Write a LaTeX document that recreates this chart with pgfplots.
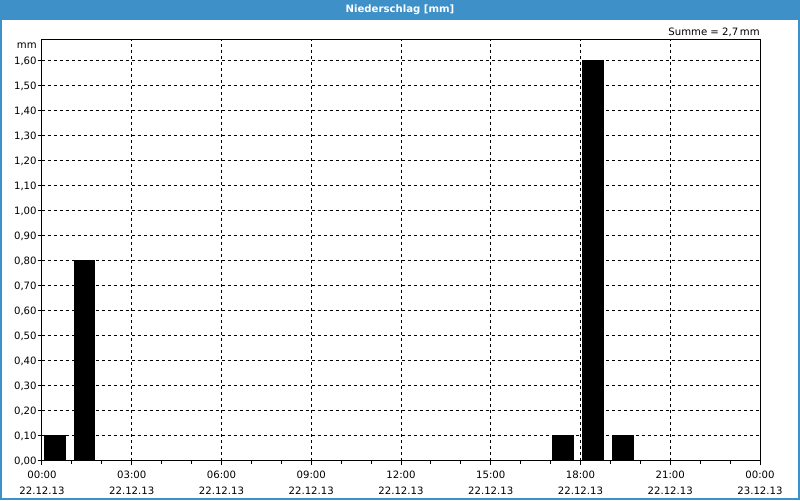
\documentclass[border=0pt]{standalone}
\usepackage{pgfplots}
\pgfplotsset{compat=1.18}
\usepackage{fontspec}
\setmainfont{DejaVu Sans}
\definecolor{frameblue}{HTML}{3D91C8}
\begin{document}
\begin{tikzpicture}
\fill[frameblue] (0,0) rectangle (600pt,375pt);
\fill[white] (1.5pt,1.5pt) rectangle (598.5pt,360pt);
\node[text=white,font=\bfseries\fontsize{7.6}{9}\selectfont] at (300pt,367.5pt) {Niederschlag [mm]};
\begin{axis}[
  at={(31.5pt,29.25pt)}, anchor=origin,
  scale only axis, width=538.5pt, height=315.75pt,
  xmin=0, xmax=24, ymin=0, ymax=1.684,
  axis line style={black, line width=0.75pt},
  xtick={0,3,...,24},
  xticklabels={{00:00\\22.12.13},{03:00\\22.12.13},{06:00\\22.12.13},{09:00\\22.12.13},{12:00\\22.12.13},{15:00\\22.12.13},{18:00\\22.12.13},{21:00\\22.12.13},{00:00\\23.12.13}},
  minor x tick num=2,
  ytick={0,0.1,...,1.65},
  tick align=outside,
  major tick length=3pt, minor tick length=2.25pt,
  tick style={black, line width=0.75pt},
  xtick pos=bottom, ytick pos=left,
  grid=major,
  major grid style={black, line width=0.75pt, dash pattern=on 2.25pt off 2.25pt},
  ticklabel style={font=\fontsize{7.6}{12}\selectfont},
  xticklabel style={align=center, yshift=-1pt},
  yticklabel style={xshift=2.5pt, /pgf/number format/.cd, fixed, fixed zerofill, precision=2, use comma},
  /pgf/number format/assume math mode=true,
  axis on top=false,
]
\addplot[ybar, bar width=0.7, bar shift=0pt, fill=black, draw=black, line width=0pt] coordinates {
 (0.42,0.10) (1.42,0.80) (17.42,0.10) (18.42,1.60) (19.42,0.10)
};
\end{axis}
\node[anchor=east,inner sep=0pt,font=\fontsize{7.6}{9}\selectfont] at (27.75pt,341pt) {mm};
\node[anchor=east,inner sep=0pt,font=\fontsize{7.6}{9}\selectfont] at (570pt,351pt) {Summe = 2,7\,mm};
\end{tikzpicture}
\end{document}
